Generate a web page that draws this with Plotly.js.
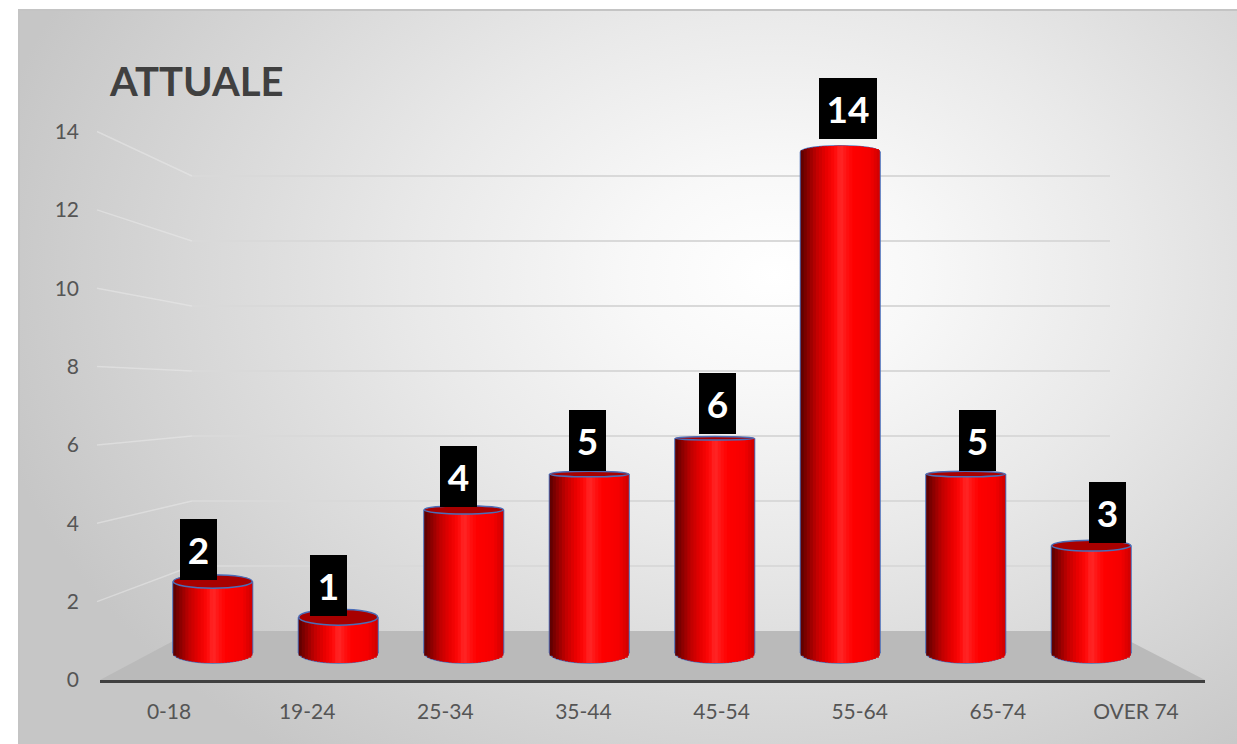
<!DOCTYPE html>
<html>
<head>
<meta charset="utf-8">
<script src="https://cdn.plot.ly/plotly-3.0.1.min.js"></script>
<style>
  html, body { margin:0; padding:0; background:#ffffff; overflow:hidden; }
  #bg { position:absolute; left:18px; top:9px; width:1219px; height:735px;
        border-left:2px solid #c4c4c4; border-top:2px solid #c4c4c4; box-sizing:border-box;
        background: radial-gradient(ellipse 66% 82% at 62% 36%, #ffffff 0%, #f8f8f8 18%, #e9e9e9 45%, #d6d6d6 75%, #c6c6c6 100%); }
  #chart { position:absolute; left:0; top:0; width:1237px; height:744px; }
</style>
</head>
<body>
<div id="bg"></div>
<div id="chart"></div>
<script>
// ---- data ----
const categories = ['0-18', '19-24', '25-34', '35-44', '45-54', '55-64', '65-74', 'OVER 74'];
const values = [2, 1, 4, 5, 6, 14, 5, 3];
const yTickValues = [0, 2, 4, 6, 8, 10, 12, 14];
const chartTitle = 'ATTUALE';

// ---- geometry (pixels) ----
const W = 1237, H = 744;
const FRONT = { left: 100, right: 1205, zero: 680, top14: 131.5 };   // front plane (labels)
const BACK = { left: 192, right: 1110, zero: 631, perUnit: 32.5 };   // back wall
const BARS = { left: 150, right: 1154, zero: 653, perUnit: 35.8, floor: 690 };   // bar plane
const LABELS = { left: 133.6, right: 1172 };                         // value-label plane
const BAR_W = 0.63;
const EYE = 7.2;
const BOT_HALF = 10 / BARS.perUnit;
const TOP_BULGE = 6 / BARS.perUnit;

const frontPerUnit = (FRONT.zero - FRONT.top14) / 14;
const fy = px => 1 - px / H;   // pixel y -> paper y
const fx = px => px / W;

// cylinder shading stops
const stops = [[0,[88,0,0]],[0.07,[128,0,0]],[0.2,[192,0,0]],[0.33,[234,0,0]],[0.43,[255,8,8]],
               [0.5,[255,40,40]],[0.57,[255,20,20]],[0.66,[255,0,0]],[0.88,[244,0,0]],[1,[206,0,0]]];
function shade(t) {
  for (let i = 1; i < stops.length; i++) {
    if (t <= stops[i][0]) {
      const a = stops[i-1], b = stops[i];
      const f = (t - a[0]) / (b[0] - a[0]);
      const c = a[1].map((v, j) => Math.round(v + (b[1][j] - v) * f));
      return 'rgb(' + c.join(',') + ')';
    }
  }
  return 'rgb(206,0,0)';
}

const traces = [];
// invisible anchors for the background-grid, label and value-label subplots
traces.push({ type:'scatter', x:[categories[0]], y:[0], xaxis:'x', yaxis:'y', mode:'markers',
              marker:{opacity:0}, hoverinfo:'skip', showlegend:false });
traces.push({ type:'scatter', x:categories, y:values.map(() => 0), xaxis:'x2', yaxis:'y2', mode:'markers',
              marker:{opacity:0}, hoverinfo:'skip', showlegend:false });
traces.push({ type:'scatter', x:categories, y:values, xaxis:'x4', yaxis:'y3', mode:'markers',
              marker:{opacity:0}, hoverinfo:'skip', showlegend:false });

// blue edge behind the cylinders
traces.push({ type:'bar', x:categories, y:values, base:0, width:BAR_W + 0.016, offset:-(BAR_W + 0.016) / 2,
              marker:{ color:'#4a6db8', line:{width:0} }, xaxis:'x3', yaxis:'y3', hoverinfo:'skip', showlegend:false });

// cylinder strips
const NS = 26;
for (let k = 0; k < NS; k++) {
  const t0 = k / NS, t1 = (k + 1) / NS, tc = (t0 + t1) / 2;
  const s = 2 * tc - 1;
  const root = Math.sqrt(Math.max(0, 1 - s * s));
  const bottom = -BOT_HALF * root;
  const sw = k === NS - 1 ? BAR_W / NS : BAR_W / NS * 1.7;
  traces.push({
    type:'bar', x:categories,
    y: values.map(v => v + (v > EYE ? TOP_BULGE * root : 0) - bottom),
    base: bottom,
    width: sw,
    offset: -BAR_W / 2 + t0 * BAR_W,
    marker:{ color: shade(tc), line:{width:0} },
    xaxis:'x3', yaxis:'y3', hoverinfo:'skip', showlegend:false
  });
}

// ---- shapes ----
const shapes = [];
// floor
shapes.push({ type:'path', xref:'paper', yref:'paper', layer:'below',
  path: `M ${fx(FRONT.left)} ${fy(FRONT.zero)} L ${fx(BACK.left)} ${fy(BACK.zero)} L ${fx(BACK.right)} ${fy(BACK.zero)} L ${fx(FRONT.right)} ${fy(FRONT.zero)} Z`,
  fillcolor:'#bababa', line:{width:0} });
// side wall perspective connectors
yTickValues.forEach(t => {
  if (t === 0) return;
  shapes.push({ type:'line', xref:'paper', yref:'paper', layer:'below',
    x0: fx(FRONT.left - 3), y0: fy(FRONT.zero - t * frontPerUnit),
    x1: fx(BACK.left), y1: fy(BACK.zero - t * BACK.perUnit),
    line:{ color:'rgba(236,236,236,0.5)', width:1.5 } });
});
// cylinder ends
values.forEach((v, i) => {
  shapes.push({ type:'circle', xref:'x3', yref:'y3', layer:'below',
    x0: i - BAR_W / 2, x1: i + BAR_W / 2, y0: -BOT_HALF, y1: BOT_HALF,
    fillcolor:'#d40000', line:{ color:'#4a6db8', width:1.5 } });
  if (v < EYE) {
    const hpx = Math.min(16, Math.max(3.5, Math.abs(EYE - v) * 2.6));
    const h = hpx / 2 / BARS.perUnit;
    shapes.push({ type:'circle', xref:'x3', yref:'y3', layer:'above',
      x0: i - BAR_W / 2, x1: i + BAR_W / 2, y0: v - h, y1: v + h,
      fillcolor:'#a80000', line:{ color:'#4a6db8', width:1.5 } });
  } else {
    shapes.push({ type:'circle', xref:'x3', yref:'y3', layer:'below',
      x0: i - BAR_W / 2, x1: i + BAR_W / 2, y0: v - TOP_BULGE, y1: v + TOP_BULGE,
      fillcolor:'#ee0000', line:{ color:'#4a6db8', width:1.5 } });
  }
});

// ---- value labels ----
const annotations = values.map((v, i) => ({
  x: categories[i], y: v, xref:'x4', yref:'y3',
  text: String(v), showarrow:false, yanchor:'bottom', xanchor:'center',
  yshift: v > EYE ? 13 : 0.2 + v * 0.65,
  bgcolor:'#000000', borderpad:0, borderwidth:0,
  width: String(v).length > 1 ? 58 : 37, height: 61,
  font:{ family:'Lato, "Open Sans", sans-serif', size:37, color:'#ffffff', weight:700 }
}));

const tickFont = { family:'Lato, "Open Sans", sans-serif', size:21, color:'#555555' };

const layout = {
  width: W, height: H,
  margin:{ l:0, r:0, t:0, b:0 },
  paper_bgcolor:'rgba(0,0,0,0)', plot_bgcolor:'rgba(0,0,0,0)',
  barmode:'overlay', showlegend:false,
  title:{ text: chartTitle, x: fx(110), xanchor:'left', y: 1 - 82 / H, yanchor:'middle',
          font:{ family:'Lato, "Open Sans", sans-serif', size:40, color:'#404040', weight:700 } },
  // back wall grid
  xaxis:{ domain:[fx(BACK.left), fx(BACK.right)], visible:false, type:'category', fixedrange:true },
  yaxis:{ domain:[fy(BACK.zero), fy(BACK.zero - 15 * BACK.perUnit)], range:[0, 15],
          tickmode:'array', tickvals: yTickValues.filter(t => t > 0), showticklabels:false,
          showgrid:true, gridcolor:'#d9d9d9', gridwidth:2, zeroline:false, showline:false, ticks:'' },
  // front labels + axis line
  xaxis2:{ domain:[fx(FRONT.left), fx(FRONT.right)], anchor:'y2', type:'category',
           showline:true, linecolor:'#404040', linewidth:3, ticks:'', showgrid:false,
           tickfont: tickFont, ticklabelstandoff: 11, range:[-0.5, categories.length - 0.5] },
  yaxis2:{ domain:[fy(FRONT.zero), fy(FRONT.top14)], anchor:'x2', range:[0, 14],
           tickmode:'array', tickvals: yTickValues, showgrid:false, zeroline:false, showline:false,
           ticks:'', tickfont: tickFont, ticklabelstandoff: 20 },
  // bars
  xaxis3:{ domain:[fx(BARS.left), fx(BARS.right)], anchor:'y3', type:'category', visible:false,
           range:[-0.5, categories.length - 0.5] },
  yaxis3:{ domain:[fy(BARS.floor), 1], anchor:'x3',
           range:[-(BARS.floor - BARS.zero) / BARS.perUnit, BARS.zero / BARS.perUnit], visible:false },
  // value-label plane
  xaxis4:{ domain:[fx(LABELS.left), fx(LABELS.right)], anchor:'y3', type:'category', visible:false,
           range:[-0.5, categories.length - 0.5] },
  shapes: shapes,
  annotations: annotations
};

Plotly.newPlot('chart', traces, layout, { staticPlot:true, displayModeBar:false });
</script>
</body>
</html>
